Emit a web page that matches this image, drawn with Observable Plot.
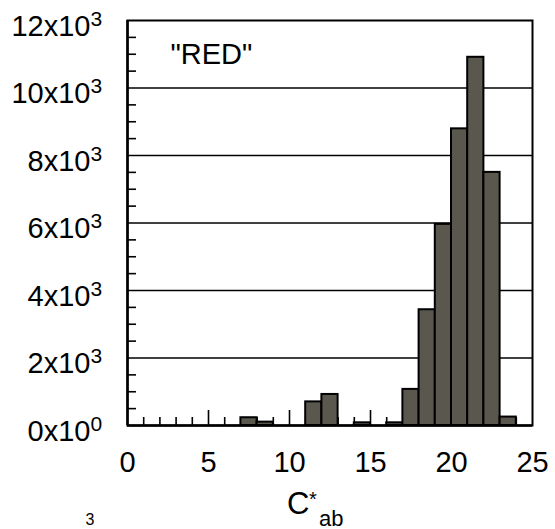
<!DOCTYPE html>
<html>
<head>
<meta charset="utf-8">
<script src="https://cdn.jsdelivr.net/npm/d3@7"></script>
<script src="https://cdn.jsdelivr.net/npm/@observablehq/plot@0.6"></script>
<style>
  html, body { margin: 0; padding: 0; background: white; overflow: hidden; }
  svg { display: block; }
</style>
</head>
<body>
<div id="chart"></div>
<script>
// Histogram bins (C*ab, bin start; width 1) and counts
const binStart = [7, 8, 11, 12, 14, 16, 17, 18, 19, 20, 21, 22, 23];
const counts   = [230, 100, 700, 920, 80, 80, 1070, 3430, 5960, 8790, 10910, 7500, 250];
const binWidth = 1;

// Axis ticks and labels
const xTicks = [0, 5, 10, 15, 20, 25];
const xMinor = [1, 2, 3, 4, 6, 7, 8, 9, 11, 12, 13, 14, 16, 17, 18, 19, 21, 22, 23, 24];
const xMajorInner = [5, 10, 15, 20];
const yTicks = [0, 2000, 4000, 6000, 8000, 10000, 12000];
const yMantissa = ["0x10", "2x10", "4x10", "6x10", "8x10", "10x10", "12x10"];
const yExponent = ["0", "3", "3", "3", "3", "3", "3"];
const yMinor = [500, 1000, 1500, 2500, 3000, 3500, 4500, 5000, 5500, 6500, 7000, 7500, 8500, 9000, 9500, 10500, 11000, 11500];
const gridVals = [2000, 4000, 6000, 8000, 10000];

const bins = binStart.map((s, i) => ({x1: s, x2: s + binWidth, count: counts[i]}));

const font = "'Liberation Sans', Arial, Helvetica, sans-serif";

const chart = Plot.plot({
  width: 555,
  height: 529,
  marginLeft: 127,
  marginRight: 23,
  marginTop: 20,
  marginBottom: 104,
  x: {domain: [0, 25], axis: null},
  y: {domain: [0, 12000], axis: null},
  style: {fontFamily: font, background: "white", color: "black"},
  marks: [
    Plot.ruleY(gridVals, {stroke: "black", strokeWidth: 1.6}),
    Plot.axisX({ticks: xMinor, tickSize: -8, tickFormat: () => "", strokeWidth: 1.6, label: null}),
    Plot.axisX({ticks: xMajorInner, tickSize: -15, tickFormat: () => "", strokeWidth: 1.6, label: null}),
    Plot.axisY({ticks: yMinor, tickSize: -9, tickFormat: () => "", strokeWidth: 1.6, label: null}),
    Plot.rectY(bins, {x1: "x1", x2: "x2", y: "count", fill: "#5a574f", stroke: "black", strokeWidth: 2}),
    Plot.frame({stroke: "black", strokeWidth: 2}),
    Plot.ruleX([0], {stroke: "black", strokeWidth: 2.5}),
    Plot.ruleY([0], {stroke: "black", strokeWidth: 2.5}),
    // y tick labels with superscript exponent
    Plot.text(yTicks, {y: d => d, frameAnchor: "left", text: (d, i) => yMantissa[i], textAnchor: "end", lineAnchor: "bottom", dx: -37, dy: 15, fontSize: 29, fill: "black"}),
    Plot.text(yTicks, {y: d => d, frameAnchor: "left", text: (d, i) => yExponent[i], textAnchor: "start", lineAnchor: "bottom", dx: -37, dy: 5, fontSize: 21, fill: "black"}),
    // x tick labels
    Plot.text(xTicks, {x: d => d, frameAnchor: "bottom", text: d => String(d), textAnchor: "middle", lineAnchor: "bottom", dy: 46, fontSize: 29, fill: "black"}),
    // x axis label C*ab
    Plot.text(["C"], {frameAnchor: "bottom", text: d => d, textAnchor: "start", lineAnchor: "bottom", dx: -43, dy: 88, fontSize: 31, fill: "black"}),
    Plot.text(["*"], {frameAnchor: "bottom", text: d => d, textAnchor: "start", lineAnchor: "bottom", dx: -21, dy: 80, fontSize: 20, fill: "black"}),
    Plot.text(["ab"], {frameAnchor: "bottom", text: d => d, textAnchor: "start", lineAnchor: "bottom", dx: -11, dy: 100, fontSize: 22, fill: "black"}),
    // in-plot title
    Plot.text(['"RED"'], {frameAnchor: "top-left", text: d => d, textAnchor: "start", lineAnchor: "bottom", dx: 43, dy: 43, fontSize: 29, fill: "black"}),
    // fragment of neighbouring panel's label at bottom-left
    Plot.text(["3"], {frameAnchor: "bottom-left", text: d => d, textAnchor: "start", lineAnchor: "bottom", dx: -42, dy: 99, fontSize: 16, fill: "black"})
  ]
});
document.getElementById("chart").appendChild(chart);
</script>
</body>
</html>
